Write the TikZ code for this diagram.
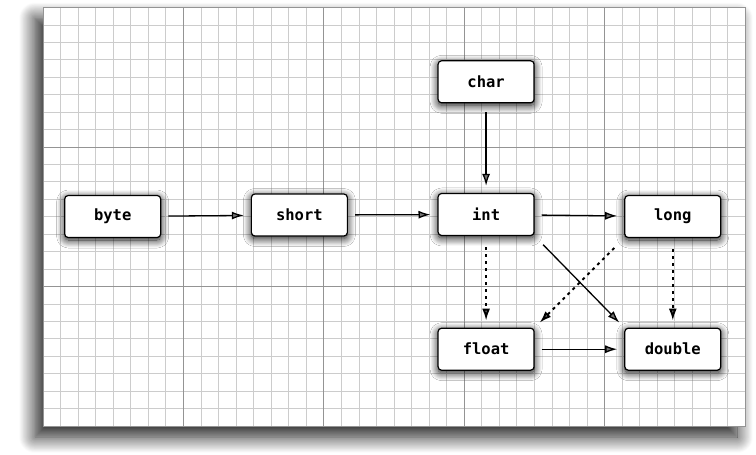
\documentclass[tikz,border=0pt]{standalone}
\usepackage{fontspec}
\setmonofont{DejaVu Sans Mono}
\usetikzlibrary{matrix,arrows.meta,shadows.blur}
\definecolor{fine-grid}{gray}{0.80}
\definecolor{major-grid}{gray}{0.58}
\tikzset{
  paper/.style={fill=white, draw=major-grid, line width=0.8pt,
    blur shadow={shadow xshift=-8pt, shadow yshift=-11pt, shadow blur radius=16pt, shadow blur steps=20, shadow opacity=90}},
  typebox/.style={draw, rectangle, rounded corners=3.5pt, fill=white, line width=1.2pt,
    minimum width=96pt, minimum height=42pt, font=\ttfamily\bfseries\fontsize{15.5}{17}\selectfont,
    blur shadow={shadow xshift=0pt, shadow yshift=-2.5pt, shadow blur radius=8pt, shadow blur steps=12, shadow opacity=95}},
  widening/.style={-{Latex[length=12pt,width=8pt]}, line width=1.3pt, shorten <=7pt, shorten >=7pt},
  lossy/.style={widening, dash pattern=on 3pt off 4pt, line width=1.9pt}
}
\begin{document}
\begin{tikzpicture}[x=1pt, y=-1pt]
    \useasboundingbox (0,0) rectangle (756,455);
    \path[paper] (43,7.5) rectangle (745,426);
    \foreach \i in {0,...,40}
      \draw[fine-grid, line width=0.8pt] ({43+\i*17.55},7.5) -- ({43+\i*17.55},426);
    \foreach \j in {0,...,24}
      \draw[fine-grid, line width=0.8pt] (43,{7.5+\j*17.4375}) -- (745,{7.5+\j*17.4375});
    \foreach \i in {1,...,4}
      \draw[major-grid, line width=0.9pt] ({43+\i*140.4},7.5) -- ({43+\i*140.4},426);
    \foreach \j in {1,2}
      \draw[major-grid, line width=0.9pt] (43,{7.5+\j*139.5}) -- (745,{7.5+\j*139.5});
    \draw[major-grid, line width=0.9pt] (43,7.5) rectangle (745,426);
    \matrix (types) at (392.75,215.5) [matrix of nodes, nodes={typebox}, column sep=89.5pt, row sep=89.5pt] {
      & & |(char)| char & \\
      |(byte)| byte & |(short)| short & |(int)| int & |(long)| long \\
      & & |(float)| float & |(double)| double \\
    };
    \draw[widening] (byte) -- (short);
    \draw[widening] (short) -- (int);
    \draw[widening] (int) -- (long);
    \draw[widening, shorten <=9pt] (char) -- (int);
    \draw[widening] (float) -- (double);
    \draw[widening, shorten <=12pt] (int.south east) -- (double.north west);
    \draw[lossy, shorten <=11pt] (int) -- (float);
    \draw[lossy, shorten <=11pt] (long) -- (double);
    \draw[lossy, shorten <=14pt] (long.south west) -- (float.north east);
  \end{tikzpicture}
\end{document}
